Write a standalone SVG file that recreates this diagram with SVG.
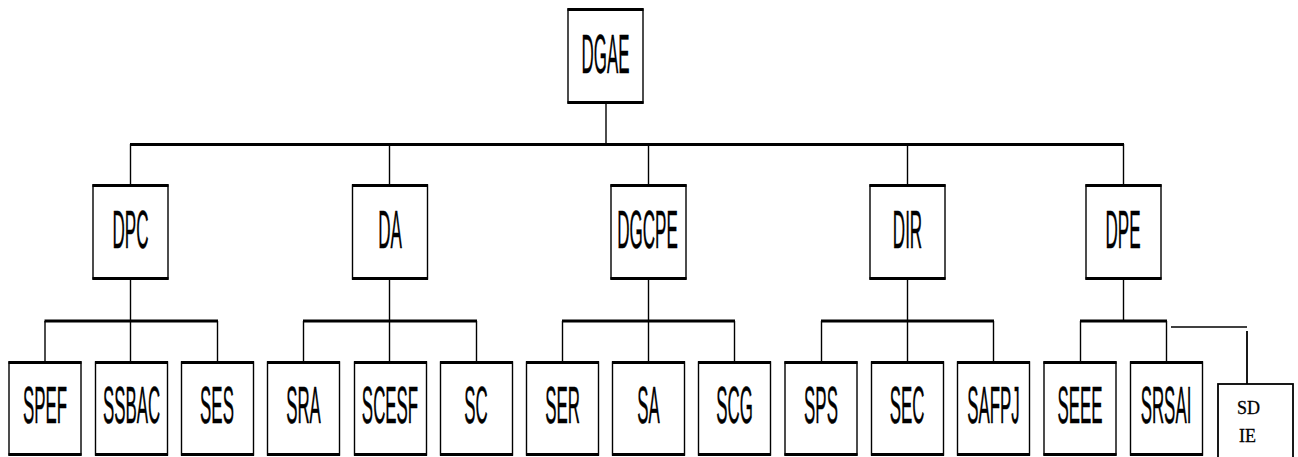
<svg xmlns="http://www.w3.org/2000/svg" width="1298" height="457" viewBox="0 0 1298 457">
<style>
.box{fill:#fff;stroke:#000;stroke-width:1.4}
.edge{stroke:#000;stroke-width:3.2;stroke-linecap:butt}
.bus{stroke:#000;stroke-width:3.2;fill:none}
.ln{stroke:#000;stroke-width:1.4;fill:none}
.t{font-family:"Liberation Sans",Arial,sans-serif;text-anchor:middle;fill:#000;stroke:#000;stroke-width:0.35;vector-effect:non-scaling-stroke}
.tm{font-size:53px}
.tb{font-size:51px}
.ts{font-family:"Liberation Serif","Times New Roman",serif;font-size:18px;fill:#000;stroke:#000;stroke-width:0.3}
</style>
<g id="connectors">
<line class="ln" x1="606" y1="103" x2="606" y2="144"/>
<line class="bus" x1="130" y1="144.5" x2="1124" y2="144.5"/>
<line class="ln" x1="130.5" y1="144" x2="130.5" y2="185"/>
<line class="ln" x1="389.5" y1="144" x2="389.5" y2="185"/>
<line class="ln" x1="648.5" y1="144" x2="648.5" y2="185"/>
<line class="ln" x1="907.5" y1="144" x2="907.5" y2="185"/>
<line class="ln" x1="1123.5" y1="144" x2="1123.5" y2="185"/>
<line class="bus" x1="44.5" y1="321" x2="218" y2="321"/>
<line class="ln" x1="130.5" y1="279" x2="130.5" y2="362"/>
<line class="ln" x1="45" y1="321" x2="45" y2="362"/>
<line class="ln" x1="217.5" y1="321" x2="217.5" y2="362"/>
<line class="bus" x1="303" y1="321" x2="477" y2="321"/>
<line class="ln" x1="389.5" y1="279" x2="389.5" y2="362"/>
<line class="ln" x1="303.5" y1="321" x2="303.5" y2="362"/>
<line class="ln" x1="476.5" y1="321" x2="476.5" y2="362"/>
<line class="bus" x1="562" y1="321" x2="735" y2="321"/>
<line class="ln" x1="648.5" y1="279" x2="648.5" y2="362"/>
<line class="ln" x1="562.5" y1="321" x2="562.5" y2="362"/>
<line class="ln" x1="734.5" y1="321" x2="734.5" y2="362"/>
<line class="bus" x1="821" y1="321" x2="994" y2="321"/>
<line class="ln" x1="907.5" y1="279" x2="907.5" y2="362"/>
<line class="ln" x1="821.5" y1="321" x2="821.5" y2="362"/>
<line class="ln" x1="993.5" y1="321" x2="993.5" y2="362"/>
<line class="bus" x1="1080" y1="321" x2="1167" y2="321"/>
<line class="ln" x1="1123.5" y1="279" x2="1123.5" y2="321"/>
<line class="ln" x1="1080.5" y1="321" x2="1080.5" y2="362"/>
<line class="ln" x1="1166.5" y1="321" x2="1166.5" y2="362"/>
<line class="ln" x1="1171" y1="327" x2="1247" y2="327"/>
<line class="ln" x1="1247" y1="331" x2="1247" y2="384" style="stroke-width:1.8"/>
</g>
<g id="DGAE">
<rect class="box" x="568" y="9" width="75" height="94"/>
<line class="edge" x1="567.5" y1="9.5" x2="643.5" y2="9.5"/><line class="edge" x1="567.5" y1="102.5" x2="643.5" y2="102.5"/>
<text class="t" style="font-size:55px" transform="translate(605.5,73) scale(0.308,1)">DGAE</text>
</g>
<g id="DPC">
<rect class="box" x="93" y="185" width="75" height="94"/>
<line class="edge" x1="92.5" y1="185.5" x2="168.5" y2="185.5"/><line class="edge" x1="92.5" y1="278.5" x2="168.5" y2="278.5"/>
<text class="t tm" transform="translate(130.5,248) scale(0.322,1)">DPC</text>
</g>
<g id="DA">
<rect class="box" x="352.5" y="185" width="75" height="94"/>
<line class="edge" x1="352" y1="185.5" x2="428" y2="185.5"/><line class="edge" x1="352" y1="278.5" x2="428" y2="278.5"/>
<text class="t tm" transform="translate(390,248) scale(0.322,1)">DA</text>
</g>
<g id="DGCPE">
<rect class="box" x="611" y="185" width="75" height="94"/>
<line class="edge" x1="610.5" y1="185.5" x2="686.5" y2="185.5"/><line class="edge" x1="610.5" y1="278.5" x2="686.5" y2="278.5"/>
<text class="t tm" transform="translate(647.5,248) scale(0.322,1)">DGCPE</text>
</g>
<g id="DIR">
<rect class="box" x="870" y="185" width="75" height="94"/>
<line class="edge" x1="869.5" y1="185.5" x2="945.5" y2="185.5"/><line class="edge" x1="869.5" y1="278.5" x2="945.5" y2="278.5"/>
<text class="t tm" transform="translate(907.5,248) scale(0.322,1)">DIR</text>
</g>
<g id="DPE">
<rect class="box" x="1086" y="185" width="75" height="94"/>
<line class="edge" x1="1085.5" y1="185.5" x2="1161.5" y2="185.5"/><line class="edge" x1="1085.5" y1="278.5" x2="1161.5" y2="278.5"/>
<text class="t tm" transform="translate(1123,248) scale(0.322,1)">DPE</text>
</g>
<g id="SPEF">
<rect class="box" x="9" y="362" width="72" height="93"/>
<line class="edge" x1="8.5" y1="362.5" x2="81.5" y2="362.5"/><line class="edge" x1="8.5" y1="454.5" x2="81.5" y2="454.5"/>
<text class="t tb" transform="translate(45,423) scale(0.331,1)">SPEF</text>
</g>
<g id="SSBAC">
<rect class="box" x="95.5" y="362" width="72" height="93"/>
<line class="edge" x1="95" y1="362.5" x2="168" y2="362.5"/><line class="edge" x1="95" y1="454.5" x2="168" y2="454.5"/>
<text class="t tb" transform="translate(131.5,423) scale(0.331,1)">SSBAC</text>
</g>
<g id="SES">
<rect class="box" x="181.5" y="362" width="72" height="93"/>
<line class="edge" x1="181" y1="362.5" x2="254" y2="362.5"/><line class="edge" x1="181" y1="454.5" x2="254" y2="454.5"/>
<text class="t tb" transform="translate(217,423) scale(0.331,1)">SES</text>
</g>
<g id="SRA">
<rect class="box" x="267.5" y="362" width="72" height="93"/>
<line class="edge" x1="267" y1="362.5" x2="340" y2="362.5"/><line class="edge" x1="267" y1="454.5" x2="340" y2="454.5"/>
<text class="t tb" transform="translate(303.5,423) scale(0.331,1)">SRA</text>
</g>
<g id="SCESF">
<rect class="box" x="354.5" y="362" width="72" height="93"/>
<line class="edge" x1="354" y1="362.5" x2="427" y2="362.5"/><line class="edge" x1="354" y1="454.5" x2="427" y2="454.5"/>
<text class="t tb" transform="translate(390,423) scale(0.331,1)">SCESF</text>
</g>
<g id="SC">
<rect class="box" x="440.5" y="362" width="72" height="93"/>
<line class="edge" x1="440" y1="362.5" x2="513" y2="362.5"/><line class="edge" x1="440" y1="454.5" x2="513" y2="454.5"/>
<text class="t tb" transform="translate(476,423) scale(0.331,1)">SC</text>
</g>
<g id="SER">
<rect class="box" x="526.5" y="362" width="72" height="93"/>
<line class="edge" x1="526" y1="362.5" x2="599" y2="362.5"/><line class="edge" x1="526" y1="454.5" x2="599" y2="454.5"/>
<text class="t tb" transform="translate(562.5,423) scale(0.331,1)">SER</text>
</g>
<g id="SA">
<rect class="box" x="612.5" y="362" width="72" height="93"/>
<line class="edge" x1="612" y1="362.5" x2="685" y2="362.5"/><line class="edge" x1="612" y1="454.5" x2="685" y2="454.5"/>
<text class="t tb" transform="translate(648.5,423) scale(0.331,1)">SA</text>
</g>
<g id="SCG">
<rect class="box" x="698.5" y="362" width="72" height="93"/>
<line class="edge" x1="698" y1="362.5" x2="771" y2="362.5"/><line class="edge" x1="698" y1="454.5" x2="771" y2="454.5"/>
<text class="t tb" transform="translate(734.5,423) scale(0.331,1)">SCG</text>
</g>
<g id="SPS">
<rect class="box" x="785" y="362" width="72" height="93"/>
<line class="edge" x1="784.5" y1="362.5" x2="857.5" y2="362.5"/><line class="edge" x1="784.5" y1="454.5" x2="857.5" y2="454.5"/>
<text class="t tb" transform="translate(821,423) scale(0.331,1)">SPS</text>
</g>
<g id="SEC">
<rect class="box" x="871.5" y="362" width="72" height="93"/>
<line class="edge" x1="871" y1="362.5" x2="944" y2="362.5"/><line class="edge" x1="871" y1="454.5" x2="944" y2="454.5"/>
<text class="t tb" transform="translate(907,423) scale(0.331,1)">SEC</text>
</g>
<g id="SAFPJ">
<rect class="box" x="957.5" y="362" width="72" height="93"/>
<line class="edge" x1="957" y1="362.5" x2="1030" y2="362.5"/><line class="edge" x1="957" y1="454.5" x2="1030" y2="454.5"/>
<text class="t tb" transform="translate(993.5,423) scale(0.331,1)">SAFPJ</text>
</g>
<g id="SEEE">
<rect class="box" x="1044" y="362" width="72" height="93"/>
<line class="edge" x1="1043.5" y1="362.5" x2="1116.5" y2="362.5"/><line class="edge" x1="1043.5" y1="454.5" x2="1116.5" y2="454.5"/>
<text class="t tb" transform="translate(1080,423) scale(0.331,1)">SEEE</text>
</g>
<g id="SRSAI">
<rect class="box" x="1130.5" y="362" width="72" height="93"/>
<line class="edge" x1="1130" y1="362.5" x2="1203" y2="362.5"/><line class="edge" x1="1130" y1="454.5" x2="1203" y2="454.5"/>
<text class="t tb" transform="translate(1166,423) scale(0.331,1)">SRSAI</text>
</g>
<g id="SDIE">
<rect class="box" x="1218" y="384" width="75" height="90" style="stroke-width:1.8"/>
<text class="ts" x="1237" y="414">SD</text>
<text class="ts" x="1239" y="442">IE</text>
</g>
</svg>
